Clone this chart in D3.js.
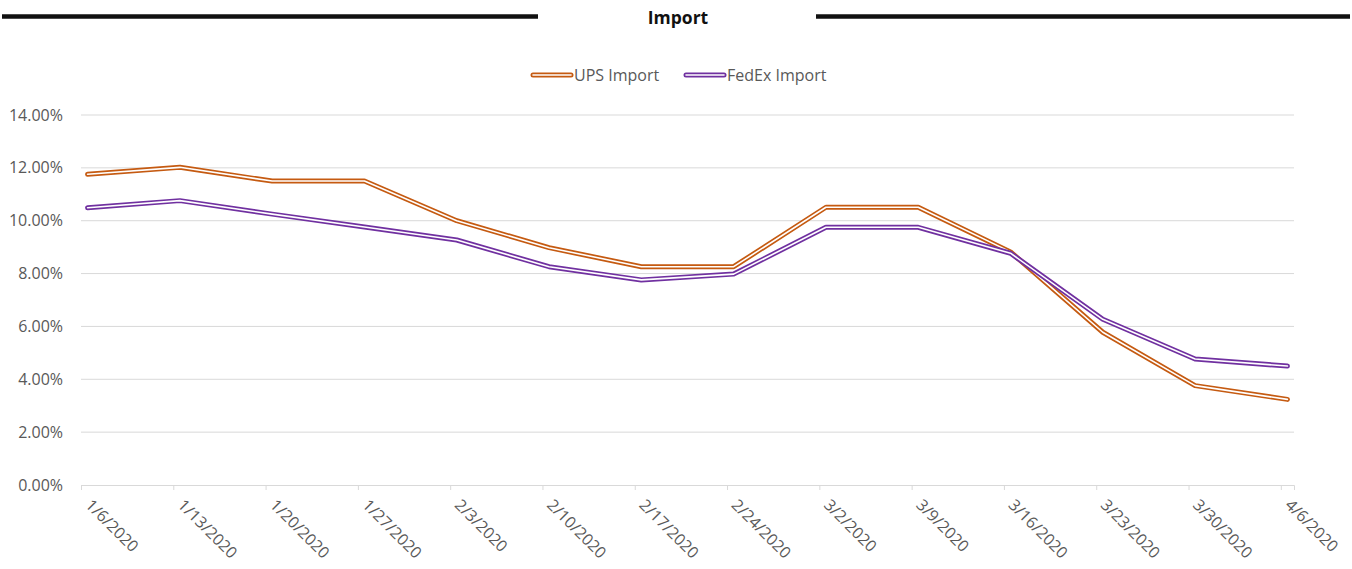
<!DOCTYPE html>
<html>
<head>
<meta charset="utf-8">
<script src="https://cdn.jsdelivr.net/npm/d3@7"></script>
<style>
  body { margin: 0; background: #fff; }
  text { font-family: "Open Sans", sans-serif; }
</style>
</head>
<body>
<script>
// weekly dates and values (percent)
var dates = ["2020-01-06", "2020-01-13", "2020-01-20", "2020-01-27", "2020-02-03", "2020-02-10",
  "2020-02-17", "2020-02-24", "2020-03-02", "2020-03-09", "2020-03-16", "2020-03-23",
  "2020-03-30", "2020-04-06"];
var upsImport = [11.76, 12.02, 11.50, 11.50, 10.00, 8.98, 8.26, 8.26, 10.51, 10.51, 8.82, 5.78, 3.76, 3.24];
var fedexImport = [10.49, 10.76, 10.25, 9.76, 9.27, 8.26, 7.76, 7.98, 9.75, 9.75, 8.77, 6.27, 4.77, 4.50];
var yTicks = [0, 2, 4, 6, 8, 10, 12, 14];
var seriesNames = ["UPS Import", "FedEx Import"];
var seriesColors = ["#C55A11", "#7030A0"];

var svgWidth = 1352;
var svgHeight = 569;

var margin = { top: 115, right: 58, bottom: 84, left: 81 };
var width = svgWidth - margin.left - margin.right;
var height = svgHeight - margin.top - margin.bottom;

var svg = d3.select("body")
  .append("svg")
  .attr("width", svgWidth)
  .attr("height", svgHeight);

var parseDate = d3.timeParse("%Y-%m-%d");
var dayList = dates.map(parseDate);

// date axis with one slot per day, points sit in the middle of their day
var xScale = d3.scaleTime()
  .domain([dayList[0], d3.timeDay.offset(dayList[dayList.length - 1], 1)])
  .range([0, width]);
var halfDay = (xScale(d3.timeDay.offset(dayList[0], 1)) - xScale(dayList[0])) / 2;

var yScale = d3.scaleLinear()
  .domain([0, 14])
  .range([height, 0]);

// title with black bars
svg.append("line")
  .attr("x1", 2).attr("x2", 538)
  .attr("y1", 16.5).attr("y2", 16.5)
  .attr("stroke", "#111").attr("stroke-width", 4.5);
svg.append("line")
  .attr("x1", 816).attr("x2", 1350)
  .attr("y1", 16.5).attr("y2", 16.5)
  .attr("stroke", "#111").attr("stroke-width", 4.5);
svg.append("text")
  .attr("x", 678)
  .attr("y", 24)
  .attr("text-anchor", "middle")
  .attr("font-size", "17.5px")
  .attr("font-weight", "bold")
  .attr("fill", "#111")
  .text("Import");

var chartGroup = svg.append("g")
  .attr("transform", `translate(${margin.left}, ${margin.top})`);

// gridlines
chartGroup.append("g").selectAll("line")
  .data(yTicks.filter(d => d > 0))
  .enter()
  .append("line")
  .attr("x1", 0).attr("x2", width)
  .attr("y1", d => yScale(d)).attr("y2", d => yScale(d))
  .attr("stroke", "#d9d9d9").attr("stroke-width", 1);

// y axis labels
var leftAxis = d3.axisLeft(yScale)
  .tickValues(yTicks)
  .tickSize(0)
  .tickPadding(18)
  .tickFormat(d => d.toFixed(2) + "%");
var yAxisG = chartGroup.append("g").call(leftAxis);
yAxisG.select(".domain").remove();
yAxisG.selectAll("text")
  .attr("font-family", "Open Sans, sans-serif")
  .attr("font-size", "16px")
  .attr("fill", "#595959");

// x axis
var bottomAxis = d3.axisBottom(xScale)
  .tickValues(dayList)
  .tickSize(5)
  .tickFormat(d3.timeFormat("%-m/%-d/%Y"));
var xAxisG = chartGroup.append("g")
  .attr("transform", `translate(0,${height})`)
  .call(bottomAxis);
xAxisG.select(".domain").attr("stroke", "#d9d9d9");
xAxisG.selectAll(".tick line").attr("stroke", "#d9d9d9");
xAxisG.selectAll(".tick text")
  .attr("font-family", "Open Sans, sans-serif")
  .attr("font-size", "16px")
  .attr("fill", "#595959")
  .attr("text-anchor", "start")
  .attr("transform", "translate(7,17) rotate(45)")
  .attr("dy", "0.35em")
  .attr("y", 0)
  .attr("x", 0);

// double lines
var line1 = d3.line()
  .x(d => xScale(d.date) + halfDay)
  .y(d => yScale(d.value));

[upsImport, fedexImport].forEach(function(vals, i) {
  var pts = vals.map((v, j) => ({ date: dayList[j], value: v }));
  chartGroup.append("path")
    .datum(pts)
    .attr("d", line1)
    .attr("fill", "none")
    .attr("stroke", seriesColors[i])
    .attr("stroke-width", 5)
    .attr("stroke-linejoin", "round")
    .attr("stroke-linecap", "round");
  chartGroup.append("path")
    .datum(pts)
    .attr("d", line1)
    .attr("fill", "none")
    .attr("stroke", "#fff")
    .attr("stroke-width", 1.6)
    .attr("stroke-linejoin", "round")
    .attr("stroke-linecap", "round");
});

// legend
var legendX = [531, 684];
seriesNames.forEach(function(name, i) {
  var lg = svg.append("g").attr("transform", `translate(${legendX[i]}, 75)`);
  lg.append("line")
    .attr("x1", 2).attr("x2", 40).attr("y1", 0).attr("y2", 0)
    .attr("stroke", seriesColors[i]).attr("stroke-width", 5)
    .attr("stroke-linecap", "round");
  lg.append("line")
    .attr("x1", 2).attr("x2", 40).attr("y1", 0).attr("y2", 0)
    .attr("stroke", "#fff").attr("stroke-width", 1.6)
    .attr("stroke-linecap", "round");
  lg.append("text")
    .attr("x", 43)
    .attr("y", 0)
    .attr("dy", "0.35em")
    .attr("font-size", "16px")
    .attr("fill", "#595959")
    .text(name);
});
</script>
</body>
</html>
